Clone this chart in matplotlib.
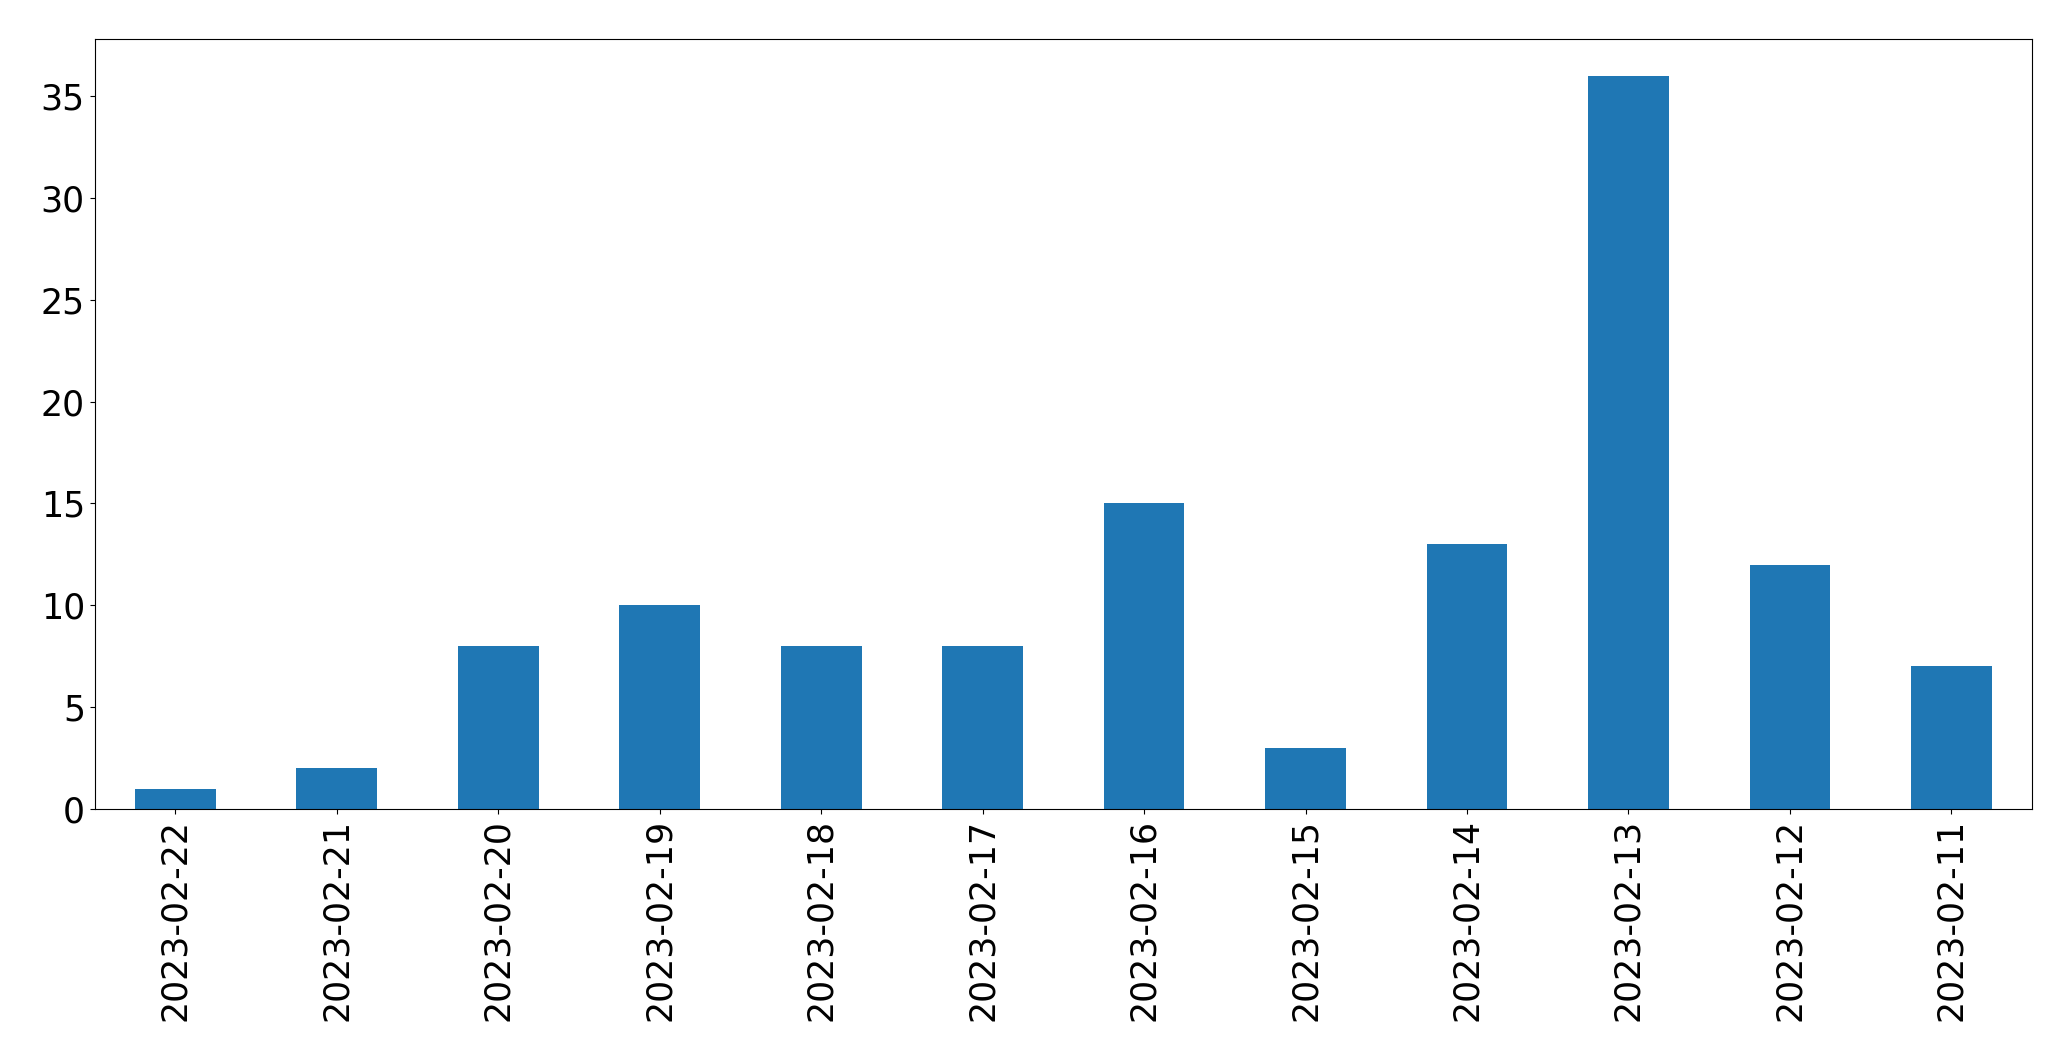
import matplotlib
matplotlib.use('Agg')
import matplotlib.pyplot as plt
import pandas as pd

dates = ['2023-02-22', '2023-02-21', '2023-02-20', '2023-02-19', '2023-02-18', '2023-02-17',
         '2023-02-16', '2023-02-15', '2023-02-14', '2023-02-13', '2023-02-12', '2023-02-11']
counts = [1, 2, 8, 10, 8, 8, 15, 3, 13, 36, 12, 7]

s = pd.Series(counts, index=dates)

fig = plt.figure(figsize=(20.71, 10.61), dpi=100)
ax = fig.add_axes([0.0457, 0.2375, 0.9355, 0.7257])
s.plot(kind='bar', ax=ax, fontsize=25)
ax.set_ylim(0, max(counts) * 1.05)

fig.savefig('out.png', dpi=100)
